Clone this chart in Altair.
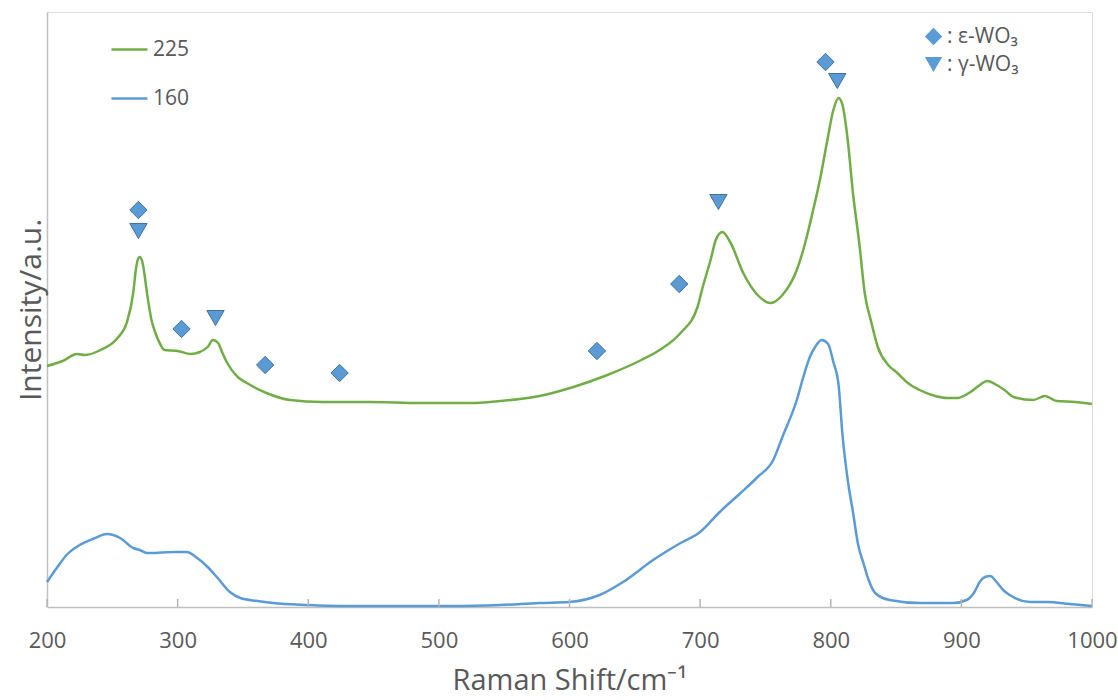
import altair as alt
import pandas as pd

# Raman shift (cm-1) and intensity (a.u.)
green_x = [200, 212, 223, 229, 241, 254, 261, 266, 268, 270, 271, 273, 277, 280, 283, 287, 290, 300,
           310, 317, 323, 327, 331, 334, 338, 346, 353, 368, 386, 411, 447, 486, 524, 547, 562, 577,
           603, 629, 655, 669, 685, 698, 702, 708, 712, 717, 723, 733, 744, 754, 763, 774, 780, 786,
           792, 797, 802, 806, 809, 813, 817, 822, 826, 831, 836, 844, 851, 859, 868, 880, 889, 897,
           907, 913, 920, 927, 933, 940, 955, 964, 973, 987, 1000]
green_y = [241, 246, 253, 252, 257, 269, 284, 314, 337, 349, 350, 345, 310, 287, 274, 262, 257, 256,
           253, 255, 260, 267, 264, 255, 244, 230, 224, 214, 207, 205, 205, 204, 204, 206, 208, 211,
           220, 232, 247, 257, 274, 300, 320, 347, 367, 375, 365, 334, 312, 304, 312, 337, 362, 394,
           429, 464, 497, 509, 502, 467, 414, 362, 314, 285, 260, 242, 234, 224, 217, 211, 209, 209,
           215, 221, 226, 222, 217, 210, 207, 211, 206, 205, 203]

blue_x = [200, 208, 215, 225, 235, 246, 256, 266, 271, 277, 279, 297, 307, 315, 323, 330, 340, 348,
          361, 373, 399, 424, 470, 509, 547, 577, 600, 623, 641, 664, 685, 700, 715, 731, 744, 756,
          763, 774, 779, 784, 788, 793, 798, 802, 806, 809, 813, 817, 821, 825, 829, 834, 845, 868,
          894, 904, 910, 914, 918, 922, 927, 932, 937, 953, 966, 983, 1000]
blue_y = [25, 40, 52, 62, 68, 73, 69, 59, 57, 54, 54, 55, 55, 49, 40, 30, 15, 9,
          6, 4, 2, 1, 1, 1, 2, 4, 5, 12, 25, 47, 64, 75, 95, 114, 130, 147,
          170, 207, 230, 250, 260, 267, 263, 245, 222, 172, 127, 95, 62, 44, 27, 14, 7, 4,
          4, 7, 15, 25, 30, 31, 25, 17, 12, 5, 5, 3, 1]

eps_x = [270, 303, 367, 424, 621, 684, 796]
eps_y = [397, 278, 242, 234, 256, 323, 545]
gam_x = [270, 329, 714, 805]
gam_y = [376, 289, 405, 526]

tick_values = [200, 300, 400, 500, 600, 700, 800, 900, 1000]
series_names = ["225", "160"]
phase_names = [":  ε-WO₃", ":  γ-WO₃"]

GREEN = "#70AD47"
BLUE = "#5B9BD5"
TEXT = "#595959"
AXIS = "#BFBFBF"
FONT = "Open Sans"

lines_df = pd.concat([
    pd.DataFrame({"x": green_x, "y": green_y, "s": series_names[0]}),
    pd.DataFrame({"x": blue_x, "y": blue_y, "s": series_names[1]}),
])
marks_df = pd.concat([
    pd.DataFrame({"x": eps_x, "y": eps_y, "p": phase_names[0]}),
    pd.DataFrame({"x": gam_x, "y": gam_y, "p": phase_names[1]}),
])
ticks_df = pd.DataFrame({"tx": tick_values})

xscale = alt.Scale(domain=[200, 1000], nice=False, zero=False)
yscale = alt.Scale(domain=[0, 595], nice=False, zero=False)

xaxis = alt.Axis(values=tick_values, format="d", ticks=False, grid=False, labelFontSize=22,
                 labelColor=TEXT, labelFont=FONT, labelPadding=23, labelFlush=False,
                 domainColor=AXIS, domainWidth=1.5,
                 title="Raman Shift/cm⁻¹", titleFontSize=29, titleColor=TEXT, titleFont=FONT,
                 titleFontWeight="normal", titlePadding=15)
yaxis = alt.Axis(labels=False, ticks=False, grid=False, domainColor=AXIS, domainWidth=1.5,
                 title="Intensity/a.u.", titleFontSize=30, titleColor=TEXT, titleFont=FONT,
                 titleFontWeight="normal", titlePadding=1)

lines = alt.Chart(lines_df).mark_line(strokeWidth=2.5, interpolate="monotone").encode(
    x=alt.X("x:Q", scale=xscale, axis=xaxis),
    y=alt.Y("y:Q", scale=yscale, axis=yaxis),
    color=alt.Color("s:N", scale=alt.Scale(domain=series_names, range=[GREEN, BLUE]),
                    sort=series_names, title=None,
                    legend=alt.Legend(orient="none", legendX=63, legendY=18, symbolType="stroke",
                                      symbolSize=1296, symbolStrokeWidth=2.5, labelFontSize=21,
                                      labelColor=TEXT, labelFont=FONT, rowPadding=19,
                                      labelOffset=4, padding=0)),
    detail="s:N",
    order=alt.Order("x:Q"),
)

ticks = alt.Chart(ticks_df).mark_rule(color="#B4B4B4", strokeWidth=1.5, opacity=1).encode(
    x=alt.X("tx:Q", scale=xscale),
    y=alt.value(587),
    y2=alt.value(595),
)

points = alt.Chart(marks_df).mark_point(filled=True, size=300, fill=BLUE, stroke="#41719C",
                                        strokeWidth=1, opacity=1).encode(
    x=alt.X("x:Q", scale=xscale),
    y=alt.Y("y:Q", scale=yscale),
    shape=alt.Shape("p:N", scale=alt.Scale(domain=phase_names, range=["diamond", "triangle-down"]),
                    sort=phase_names, title=None,
                    legend=alt.Legend(orient="none", legendX=876, legendY=14, symbolSize=300,
                                      symbolFillColor=BLUE, symbolStrokeColor="#41719C",
                                      symbolStrokeWidth=1, labelFontSize=21, labelColor=TEXT,
                                      labelFont=FONT, rowPadding=5, labelOffset=3, padding=0)),
)

chart = alt.layer(lines, points, ticks).properties(
    width=1045, height=595,
    padding={"left": 47, "top": 12, "right": 26, "bottom": 93},
    autosize=alt.AutoSizeParams(type="none"),
).configure_view(stroke=None).configure(background="white")

chart.save("out.html", embed_options={"renderer": "svg", "actions": False})
